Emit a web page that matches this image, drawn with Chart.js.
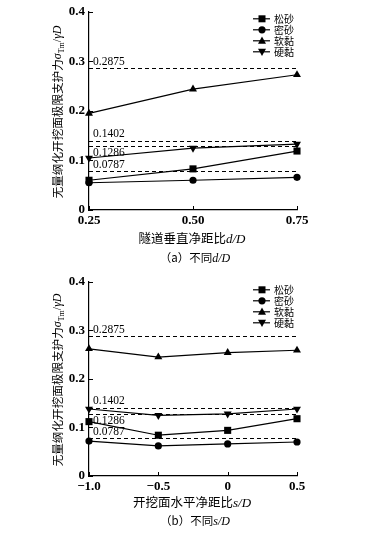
<!DOCTYPE html>
<html>
<head>
<meta charset="utf-8">
<script src="https://cdn.jsdelivr.net/npm/chart.js@4/dist/chart.umd.min.js"></script>
<style>
  body { margin: 0; background: #fff; }
  .box { position: absolute; left: 0; width: 366px; }
  #boxA { top: 0; height: 270px; }
  #boxB { top: 270px; height: 269px; }
  canvas { display: block; }
</style>
</head>
<body>
<div class="box" id="boxA"><canvas id="chartA" width="366" height="270"></canvas></div>
<div class="box" id="boxB"><canvas id="chartB" width="366" height="269"></canvas></div>
<script>
// series names
const soilNames = ["松砂", "密砂", "软黏", "硬黏"];

// (a) different d/D
const dRatio = [0.25, 0.50, 0.75];
const dLoose = [0.060, 0.083, 0.119];
const dDense = [0.055, 0.060, 0.066];
const dSoft = [0.195, 0.244, 0.273];
const dStiff = [0.105, 0.125, 0.133];

// (b) different s/D
const sRatio = [-1.0, -0.5, 0, 0.5];
const sLoose = [0.112, 0.084, 0.094, 0.118];
const sDense = [0.072, 0.062, 0.066, 0.070];
const sSoft = [0.262, 0.245, 0.254, 0.259];
const sStiff = [0.138, 0.125, 0.128, 0.138];

// single-tunnel reference values (dashed lines)
const refValues = [0.2875, 0.1402, 0.1286, 0.0787];
const refLabels = ["0.2875", "0.1402", "0.1286", "0.0787"];

const yTicks = [0, 0.1, 0.2, 0.3, 0.4];

const SERIF = '"Liberation Serif", "DejaVu Serif", serif';
const CJK = '"Noto Sans CJK SC", sans-serif';

const markers = [
  { style: "rect", radius: 5, rotation: 0 },
  { style: "circle", radius: 3.6, rotation: 0 },
  { style: "triangle", radius: 4.6, rotation: 0 },
  { style: "triangle", radius: 4.6, rotation: 180 }
];

function drawRich(ctx, parts, x, y) {
  let total = 0;
  parts.forEach(p => { ctx.font = p.f; p.w = ctx.measureText(p.t).width; total += p.w; });
  let cx = x - total / 2;
  ctx.textBaseline = "alphabetic";
  ctx.textAlign = "left";
  parts.forEach(p => {
    ctx.font = p.f;
    ctx.fillText(p.t, cx, y + (p.dy || 0));
    cx += p.w;
  });
}

function drawMarker(ctx, i, x, y) {
  ctx.beginPath();
  if (i === 0) {
    ctx.rect(x - 3.5, y - 3.5, 7, 7);
  } else if (i === 1) {
    ctx.arc(x, y, 3.6, 0, Math.PI * 2);
  } else if (i === 2) {
    ctx.moveTo(x, y - 4.2); ctx.lineTo(x + 4, y + 3); ctx.lineTo(x - 4, y + 3);
  } else {
    ctx.moveTo(x, y + 4.2); ctx.lineTo(x + 4, y - 3); ctx.lineTo(x - 4, y - 3);
  }
  ctx.closePath();
  ctx.fill();
}

function makeDecor(xTitle, caption, titleY, captionY, legendTop) {
  return {
    id: "decor",
    afterDraw(chart) {
      const ctx = chart.ctx;
      const a = chart.chartArea;
      const xs = chart.scales.x, ys = chart.scales.y;
      ctx.save();
      ctx.fillStyle = "#000";
      ctx.strokeStyle = "#000";

      // inward tick marks
      ctx.lineWidth = 1;
      ctx.beginPath();
      yTicks.forEach(v => {
        const py = Math.round(ys.getPixelForValue(v)) + 0.5;
        ctx.moveTo(a.left, py); ctx.lineTo(a.left + 4, py);
      });
      xs.ticks.forEach(t => {
        const px = Math.round(xs.getPixelForValue(t.value)) + 0.5;
        ctx.moveTo(px, a.bottom); ctx.lineTo(px, a.bottom - 4);
      });
      ctx.stroke();

      // dashed reference lines and their labels
      const offs = [-6, -7, 7, -6];
      ctx.setLineDash([4, 3]);
      refValues.forEach((v, i) => {
        const py = Math.round(ys.getPixelForValue(v)) + 0.5;
        ctx.beginPath();
        ctx.moveTo(a.left, py); ctx.lineTo(a.right, py);
        ctx.stroke();
      });
      ctx.setLineDash([]);
      ctx.font = "11.5px " + SERIF;
      ctx.textBaseline = "middle";
      ctx.textAlign = "left";
      refValues.forEach((v, i) => {
        const py = ys.getPixelForValue(v);
        ctx.fillText(refLabels[i], a.left + 4, py + offs[i]);
      });

      // legend
      ctx.lineWidth = 1.2;
      ctx.font = "10px " + CJK;
      soilNames.forEach((n, i) => {
        const py = a.top + legendTop + i * 11;
        ctx.beginPath();
        ctx.moveTo(a.right - 44, py); ctx.lineTo(a.right - 27, py);
        ctx.stroke();
        drawMarker(ctx, i, a.right - 35, py);
        ctx.textBaseline = "middle";
        ctx.fillText(n, a.right - 23, py);
      });

      // y axis title
      ctx.save();
      ctx.translate(58, (a.top + a.bottom) / 2 + 1);
      ctx.rotate(-Math.PI / 2);
      drawRich(ctx, [
        { t: "无量纲化开挖面极限支护力", f: "11.6px " + CJK },
        { t: "σ", f: "italic 12px " + SERIF, dy: -1 },
        { t: "Tm", f: "8px " + SERIF, dy: 2 },
        { t: "/", f: "12px " + SERIF, dy: -1 },
        { t: "γD", f: "italic 12px " + SERIF, dy: -1 }
      ], 0, 4);
      ctx.restore();

      // x title and caption
      drawRich(ctx, xTitle, 192, titleY);
      drawRich(ctx, caption, 195, captionY);
      ctx.restore();
    }
  };
}

function buildChart(id, xVals, series, xMin, xMax, xFmt, wantTop, wantBottom, decor) {
  const fit = { h: 60, w: 89 };
  const datasets = series.map((vals, i) => ({
    label: soilNames[i],
    data: xVals.map((x, j) => ({ x: x, y: vals[j] })),
    borderColor: "#000",
    backgroundColor: "#000",
    borderWidth: 1.2,
    pointStyle: markers[i].style,
    pointRadius: markers[i].radius,
    pointRotation: markers[i].rotation,
    pointBorderWidth: 0,
    tension: 0,
    clip: false
  }));
  const chart = new Chart(document.getElementById(id), {
    type: "line",
    data: { datasets: datasets },
    options: {
      responsive: false,
      animation: false,
      layout: { padding: { top: wantTop, right: 69, left: 0, bottom: 0 } },
      plugins: { legend: { display: false }, tooltip: { enabled: false } },
      scales: {
        x: {
          type: "linear",
          min: xMin, max: xMax,
          afterBuildTicks: s => { s.ticks = xVals.map(v => ({ value: v })); },
          afterFit: s => { s.height = fit.h; },
          grid: { display: false, drawTicks: false },
          border: { display: true, color: "#000", width: 1.2 },
          ticks: {
            color: "#000", padding: 3, maxRotation: 0,
            font: { family: SERIF, size: 13, weight: "bold" },
            callback: xFmt
          }
        },
        y: {
          min: 0, max: 0.4,
          afterBuildTicks: s => { s.ticks = yTicks.map(v => ({ value: v })); },
          afterFit: s => { s.width = fit.w; },
          grid: { display: false, drawTicks: false },
          border: { display: true, color: "#000", width: 1.2 },
          ticks: {
            color: "#000", padding: 4,
            font: { family: SERIF, size: 13, weight: "bold" },
            callback: v => (v === 0 ? "0" : v.toFixed(1))
          }
        }
      }
    },
    plugins: [decor]
  });
  // nudge the plot area onto the wanted pixel box
  for (let k = 0; k < 3; k++) {
    const ca = chart.chartArea;
    fit.h += ca.bottom - wantBottom;
    chart.options.layout.padding.top += wantTop - ca.top;
    fit.w += 89 - ca.left;
    chart.update("none");
  }
  return chart;
}

buildChart("chartA", dRatio, [dLoose, dDense, dSoft, dStiff], 0.25, 0.75,
  v => v.toFixed(2), 10, 210,
  makeDecor(
    [{ t: "隧道垂直净距比", f: "12.5px " + CJK }, { t: "d/D", f: "italic 13px " + SERIF }],
    [{ t: "（a）不同", f: "11.5px " + CJK }, { t: "d/D", f: "italic 12px " + SERIF }],
    243, 262, 7));

buildChart("chartB", sRatio, [sLoose, sDense, sSoft, sStiff], -1.0, 0.5,
  v => (v === 0 ? "0" : v.toFixed(1).replace("-", "−")), 7, 206,
  makeDecor(
    [{ t: "开挖面水平净距比", f: "12.5px " + CJK }, { t: "s/D", f: "italic 13px " + SERIF }],
    [{ t: "（b）不同", f: "11.5px " + CJK }, { t: "s/D", f: "italic 12px " + SERIF }],
    237, 255, 8));
</script>
</body>
</html>
